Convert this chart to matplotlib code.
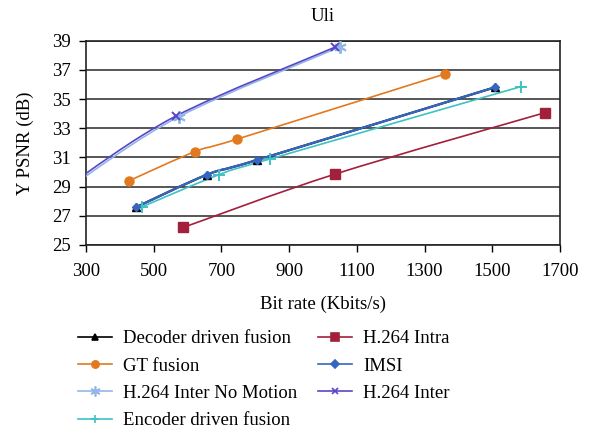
"""Y PSNR vs bit rate for the Uli sequence"""

import numpy as np
import matplotlib
matplotlib.use('Agg')
import matplotlib.pyplot as plt
from matplotlib.path import Path
from matplotlib.patches import PathPatch
from matplotlib.lines import Line2D

# data (kbit/s, dB)
decoder_x = [447, 658, 805, 1507]
decoder_y = [27.58, 29.82, 30.82, 35.80]
gt_x = [427, 622, 747, 1360]
gt_y = [29.40, 31.40, 32.26, 36.72]
nomotion_x = [255, 575, 1050]
nomotion_y = [29.0, 33.80, 38.57]
encoder_x = [464, 694, 844, 1584]
encoder_y = [27.60, 29.83, 30.90, 35.85]
intra_x = [587, 1036, 1656]
intra_y = [26.20, 29.86, 34.07]
imsi_x = [447, 658, 805, 1507]
imsi_y = [27.58, 29.82, 30.82, 35.80]
inter_x = [250, 565, 1035]
inter_y = [29.1, 33.83, 38.55]

x_ticks = [300, 500, 700, 900, 1100, 1300, 1500, 1700]
y_ticks = [25, 27, 29, 31, 33, 35, 37, 39]

plt.rcParams['font.family'] = ['Liberation Serif', 'DejaVu Serif']
plt.rcParams['font.size'] = 13.5


# excel style smoothed line as a bezier path
def smooth_line(ax, xs, ys, color, lw):
    pts = np.column_stack([xs, ys]).astype(float)
    n = len(pts)
    verts = [pts[0]]
    codes = [Path.MOVETO]
    for i in range(n - 1):
        p0 = pts[i - 1] if i > 0 else pts[i]
        p1 = pts[i]
        p2 = pts[i + 1]
        p3 = pts[i + 2] if i + 2 < n else pts[i + 1]
        c1 = p1 + (p2 - p0) / 6
        c2 = p2 - (p3 - p1) / 6
        verts += [c1, c2, p2]
        codes += [Path.CURVE4] * 3
    patch = PathPatch(Path(verts, codes), facecolor='none', edgecolor=color,
                      lw=lw, zorder=3)
    ax.add_patch(patch)


series = [
    ('Decoder driven fusion', decoder_x, decoder_y, 'black', '^', 6, 'black'),
    ('GT fusion', gt_x, gt_y, '#E3791F', 'o', 6.5, '#E3791F'),
    ('H.264 Inter No Motion', nomotion_x, nomotion_y, '#92B6E6', (6, 2, 0), 9, '#92B6E6'),
    ('Encoder driven fusion', encoder_x, encoder_y, '#3EC2C2', '+', 8, '#3EC2C2'),
    ('H.264 Intra', intra_x, intra_y, '#A3203C', 's', 6.5, '#A3203C'),
    ('IMSI', imsi_x, imsi_y, '#3567C0', 'D', 4.5, '#3567C0'),
    ('H.264 Inter', inter_x, inter_y, '#5A45C8', 'x', 6, '#5A45C8'),
]

fig = plt.figure(figsize=(6, 4.33), dpi=100)
ax = fig.add_axes([0.1433, 0.4342, 0.79, 0.4718])

handles = []
for name, xs, ys, col, mk, ms, mcol in series:
    lw = 1.6 if name in ('Decoder driven fusion', 'IMSI') else 1.2
    smooth_line(ax, xs, ys, col, lw)
    inter = name in ('H.264 Inter', 'H.264 Inter No Motion')
    ax.plot(xs, ys, linestyle='none', marker=mk, markersize=ms, color=mcol,
            markeredgewidth=1.4 if mk in ('+', 'x', (6, 2, 0)) else 1, zorder=4,
            clip_on=inter)
    handles.append(Line2D([], [], color=col, lw=1.2, marker=mk, markersize=ms * 0.8,
                          markeredgewidth=1.2, label=name))

ax.set_xlim(300, 1700)
ax.set_ylim(25, 39)
ax.set_xticks(x_ticks)
ax.set_yticks(y_ticks)
ax.tick_params(direction='out', length=5, width=1, color='black')
ax.tick_params(axis='x', pad=8)
ax.tick_params(axis='y', pad=6)
ax.grid(axis='y', color='#3a3a3a', lw=1.2)
ax.set_axisbelow(True)
for s in ax.spines.values():
    s.set_linewidth(1.2)
    s.set_color('#222222')

ax.set_xlabel('Bit rate (Kbits/s)', labelpad=11)
ax.set_ylabel('Y PSNR (dB)', labelpad=13)
ax.set_title('Uli', pad=14, fontsize=13.5)

fig.legend(handles=handles, ncol=2, frameon=False, loc='upper left',
           bbox_to_anchor=(0.13, 0.238), handlelength=1.8, handletextpad=0.6,
           columnspacing=1.1, labelspacing=0.55, borderaxespad=0, borderpad=0)

fig.savefig('out.png', dpi=100)
